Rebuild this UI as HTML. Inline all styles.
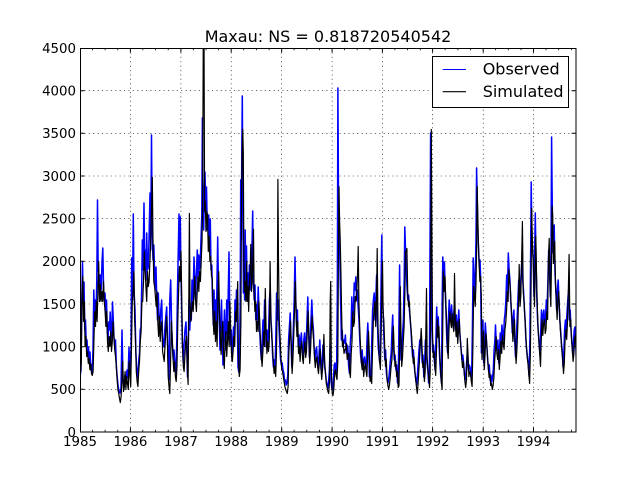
<!DOCTYPE html>
<html>
<head>
<meta charset="utf-8">
<style>
html,body{margin:0;padding:0;background:#fff;}
svg{display:block;}
text{font-family:"DejaVu Sans","Liberation Sans",sans-serif;fill:#000;}
</style>
</head>
<body>
<svg width="640" height="480" viewBox="0 0 640 480" xmlns="http://www.w3.org/2000/svg">
<defs>
<clipPath id="pc"><rect x="80" y="48" width="496" height="384"/></clipPath>
</defs>
<rect x="0" y="0" width="640" height="480" fill="#fff"/>

<!-- series -->
<g clip-path="url(#pc)" fill="none" stroke-linejoin="round">
<polyline stroke="#0000ff" stroke-width="1.5" points="
80,377 81,370 81.8,300 82.5,262 83.2,300 84,282 84.8,330 85.5,320 86.3,345 87,340 87.8,355 88.5,347 89.3,360 90,352 90.8,370 91.5,365 92.2,373 93,350 93.8,290 94.5,320 95.3,300 96,318 96.8,280 97.5,200 98.2,270 99,275 99.7,300 100.5,275 101.2,290 102,262 102.8,248 103.5,285 104.2,300 105,293 105.8,315 106.5,300 107.3,330 108,340 108.8,322 109.5,330 110.2,312 111,340 111.8,330 112.5,302 113.3,320 114,338 114.8,347 115.5,340 116.3,365 117,375 118,385 119,392 120,393 121,388 122,330 123,380 124,388 125,375 126,382 127,370 128,378 129,347 130,372
131,350 131.7,258 132.5,300 133.3,214 134,290 135,310 135.8,350 136.5,365 137.3,373 138,378 138.8,360 139.5,353 140.2,330 141,327 141.8,280 142.3,240 143,270 144,203 144.7,260 145.3,250 146,280 146.7,233 147.5,270 148.3,267 149,240 150,193 150.7,250 151.5,135 152.2,230 153,260 153.8,245 154.5,270 155.3,290 156,267 156.8,300 157.5,320 158.3,293 159,315 160,327 160.8,310 161.7,300 162.5,335 163.2,345 164,347 164.8,330 165.5,320 166.7,307 167.5,340 168.3,367 169,380 169.8,300 170.7,280 171.5,320 172.3,345 173.3,360 174,350 175,365 176,373 176.8,340 177.5,290 178.3,250 179,214 179.7,260 180.3,217 181,277
181.5,300 182.3,340 183.3,363 184,345 185,330 186,322 186.8,350 187.5,377 188.3,345 189,300 189.8,330 190.5,307 191.3,320 192,280 193,300 194,257 194.8,280 195.5,300 196.3,275 197.3,250 198,280 198.8,255 199.5,270 200.3,260 201,240 201.8,215 202.4,118 203,200 203.7,230 204.3,190 205,172 205.7,210 206.5,187 207.3,230 208,215 208.7,215 209.5,250 210.3,219 211,270 211.8,265 212.5,300 213.3,325 214,290 214.8,330 215.5,300 216.3,335 217,280 217.7,237 218.5,290 219.3,320 220,350 220.8,320 221.5,300 222.3,340 223,365 223.8,330 224.5,310 225.3,350 226,330 226.8,300 227.5,340 228.3,290 229,252 229.8,320 230.5,345 231.3,330
232,360 232.8,345 233.5,327 234.3,340 235,300 235.8,315 236.5,290 237.3,320 238,367 238.8,372 239.5,363 240.2,300 240.7,180 241.3,240 241.8,150 242.3,96 242.8,180 243.4,293 244,260 244.6,300 245.2,230 245.8,280 246.5,246 247.2,300 248,273 248.7,300 249.4,265 250.1,290 250.8,260 251.5,280 252.1,240 252.7,211 253.4,280 254.2,300 255,285 255.8,320 256.6,305 257.4,320 258.2,287 259,310 259.8,333 260.6,350 261.4,360 262.2,340 263,320 263.8,335 264.6,300 265.4,320 266.2,347 267,330 267.8,345 268.6,333 269.4,300 270.2,290 271,320 271.8,333 272.6,355 273.4,367 274.2,360 275,370 275.8,340 276.6,293 277.4,320 278.2,300 279,327 279.8,345 280.6,360 281.4,365
282.2,363 283,370 283.8,373 284.6,382 285.4,380 286.2,385 287,383 287.8,375 288.6,340 289.4,327 290.2,313 291,340 291.8,367 292.6,350 293.4,327 294.2,300 295,257 295.8,300 296.6,327 297.4,310 298.2,347 299,335 299.8,353 300.6,340 301.4,333 302.2,350 303,357 303.8,340 304.6,333 305.4,350 306.2,343 307,320 307.8,297 308.6,330 309.4,357 310.2,340 311,320 311.8,300 312.6,320 313.4,330 314.2,350 315,360 315.8,350 316.6,347 317.4,360 318.2,367 319,355 319.8,340 320.6,360 321.4,373 322.2,360 323,345 323.8,350 324.6,367 325.4,372 326.2,380 327,385 327.8,388 328.6,382 329.4,370 330.2,345 331,380 331.8,388
332.6,390 333.4,380 334.2,365 335,363 335.8,370 336.6,373 337.3,300 337.9,88 338.5,200 339.2,228 339.9,260 340.6,300 341.4,340 342.2,330 343,347 343.8,340 344.6,343 345.4,335 346.2,353 347,345 347.8,347 348.6,365 349.4,373 350.2,345 351,333 351.8,297 352.6,320 353.4,313 354.2,283 355,290 355.8,277 356.6,300 357.4,290 358.2,307 359,320 359.8,340 360.6,355 361.4,363 362.2,350 363,370 363.8,360 364.6,357 365.4,365 366.2,370 367,340 367.8,323 368.6,345 369.4,377 370.2,370 371,378 371.8,340 372.6,310 373.4,300 374.2,293 375,320 375.8,300 376.6,275 377.4,320 378.2,347 379,355 379.8,363 380.6,320 381.4,260 381.8,235 382.4,300
383.2,313 384,340 384.8,360 385.6,350 386.4,373 387.2,380 388,383 388.8,378 389.6,370 390.4,360 391.2,353 392,330 392.7,315 393.5,345 394.3,360 395.1,355 395.9,370 396.7,365 397.5,383 398.3,380 399,320 399.6,265 400.3,330 401,360 401.8,350 402.6,333 403.4,320 404.2,280 404.8,227 405.5,250 406.2,270 407,287 407.8,300 408.6,295 409.4,310 410.2,320 411,330 411.8,345 412.6,357 413.4,350 414.2,365 415,373 415.8,380 416.6,385 417.4,375 418.2,363 419,350 419.8,340 420.6,345 421.4,340 422.2,363 423,355 423.8,377 424.6,365 425.4,340 426.2,350 427,363 427.8,370 428.6,383 429.4,375 430,250 430.6,133 431.2,250 431.9,330
432.7,352 433.5,345 434.3,360 435.1,370 435.9,340 436.7,307 437.5,330 438.3,317 439.1,345 439.9,363 440.7,375 441.5,383 442.2,300 442.8,257 443.6,280 444.4,262 445.2,290 446,313 446.8,340 447.6,353 448.4,320 449.2,300 450,313 450.8,320 451.6,305 452.4,320 453.2,327 454,310 454.8,320 455.6,330 456.4,315 457.2,337 458,325 458.8,310 459.6,330 460.4,340 461.2,350 462,360 462.8,355 463.6,363 464.4,375 465.2,380 466,372 466.8,360 467.6,350 468.4,370 469.2,365 470,367 470.8,375 471.6,380 472.4,330 473.2,258 474,280 474.7,297 475.4,270 476,240 476.6,168 477.2,200 477.9,233 478.6,250 479.3,267 480,260 480.7,280 481.4,353 482.2,330 482.9,320
483.7,363 484.5,345 485.3,323 486.1,335 486.9,347 487.7,360 488.5,370 489.3,365 490.1,380 490.9,375 491.7,382 492.5,378 493.3,370 494.1,350 494.9,340 495.5,325 496.3,345 497.1,350 497.9,340 498.7,363 499.5,350 500.3,333 501.1,345 501.9,325 502.7,335 503.5,340 504.3,320 505.1,313 505.9,300 506.7,275 507.5,290 508.3,253 509.1,270 509.9,280 510.7,300 511.5,313 512.3,333 513.1,320 513.9,310 514.7,340 515.5,357 516.3,340 517.1,320 517.9,300 518.7,280 519.5,300 520.3,287 521.1,275 521.9,260 522.7,280 523.5,290 524.3,307 525.1,320 525.9,340 526.7,350 527.5,357 528.3,365 529.1,377 529.9,340 530.6,260 531.2,182 531.8,230 532.5,247 533.2,260
534,297 534.7,250 535.3,213 536,260 536.8,297 537.6,320 538.4,333 539.2,345 540,355 540.8,330 541.5,310 542.3,327 543.1,315 543.9,310 544.7,325 545.5,320 546.3,300 547.1,310 547.9,280 548.7,250 549.5,270 550.3,297 551,250 551.6,137 552.2,200 552.9,253 553.6,240 554.2,225 555,273 555.8,290 556.6,310 557.4,290 558.2,280 559,300 559.8,320 560.6,330 561.4,343 562.2,350 563,367 563.8,355 564.6,330 565.4,320 566.2,330 567,313 567.8,300 568.6,290 569.4,320 570.2,310 571,330 571.8,340 572.6,353 573.4,345 574.2,330 575,327 575.8,345 576.3,360"/>
<polyline stroke="#000000" stroke-width="1.2" transform="translate(0.5,1.5)" points="
80,372 80.8,360 81.6,290 82.3,275 83,320 83.8,300 84.6,345 85.4,335 86.2,355 87,350 87.8,362 88.6,357 89.4,368 90.2,362 91,372 91.8,374 92.6,370 93.4,340 94.2,310 95,325 95.8,300 96.6,320 97.4,290 98.2,260 99,300 99.8,283 100.6,300 101.4,290 102.2,300 103,280 103.8,300 104.6,310 105.4,325 106.2,310 107,340 107.8,350 108.6,335 109.4,345 110.2,330 111,350 111.8,340 112.6,320 113.4,335 114.2,348 115,355 115.8,365 116.6,378 117.4,388 118.2,392 119,397 119.8,401 120.6,395 121.4,380 122.2,360 123,390 123.8,385 124.6,370 125.4,388 126.2,375 127,382 127.8,388 128.6,360 129.4,372 130.2,385
131,345 131.8,300 132.6,290 133.4,270 134.2,320 135,340 135.8,370 136.6,380 137.4,385 138.2,370 139,360 139.8,340 140.6,330 141.4,300 142.2,300 143,280 143.8,250 144.6,270 145.4,285 146.2,300 147,270 147.8,285 148.6,280 149.4,260 150.2,240 151,210 151.8,176 152.5,240 153.3,280 154.1,285 154.9,295 155.7,305 156.5,290 157.3,320 158.1,335 158.9,315 159.7,340 160.5,325 161.3,320 162.1,350 162.9,355 163.7,360 164.5,345 165.3,330 166.1,315 166.9,340 167.7,375 168.5,385 169.3,392 170.1,360 170.9,320 171.7,335 172.5,355 173.3,370 174.1,360 174.9,375 175.7,380 176.5,365 177.3,320 178.1,290 178.9,265 179.7,280 180.5,250 181.3,300
182,345 182.8,365 183.6,370 184.4,355 185.2,340 186,335 186.8,365 187.6,383 188.3,300 188.9,212 189.5,300 190.3,320 191.1,310 191.9,300 192.7,310 193.5,290 194.3,275 195.1,300 195.9,310 196.7,290 197.5,275 198.3,290 199.1,270 199.9,280 200.7,260 201.5,240 202.1,205 202.8,30 203.5,30 204.1,210 204.8,200 205.5,230 206.3,210 207,214 207.8,250 208.6,235 209.4,260 210.2,255 211,275 211.8,277 212.6,317 213.4,333 214.2,310 215,340 215.8,320 216.6,345 217.4,300 218.2,270 219,310 219.8,335 220.6,353 221.4,330 222.2,320 223,350 223.8,367 224.6,340 225.4,330 226.2,355 227,340 227.8,320 228.6,345 229.4,300 230.2,330 231,352
231.8,360 232.6,350 233.4,335 234.2,345 235,310 235.8,320 236.6,300 237.2,280 238,360 238.8,375 239.6,368 240.4,320 241,200 241.6,155 242.2,128 242.8,150 243.4,260 244,290 244.7,280 245.4,300 246.1,260 246.8,300 247.5,285 248.2,310 248.9,280 249.6,270 250.3,243 251,290 251.7,280 252.4,255 253,228 253.6,290 254.4,310 255.2,300 256,330 256.8,320 257.6,330 258.4,300 259.2,320 260,340 260.8,355 261.6,365 262.4,350 263.2,330 264,345 264.8,287 265.6,330 266.4,352 267.2,340 268,350 268.8,340 269.6,260 270.4,320 271.2,335 272,345 272.8,360 273.6,372 274.4,365 275.2,375 276,350 276.8,300 277.4,178 278,260 278.8,320 279.6,335 280.4,355 281.2,368
282,370 282.8,375 283.6,380 284.4,385 285.2,388 286,390 286.8,392 287.6,385 288.4,350 289.2,335 290,320 290.8,345 291.6,372 292.4,358 293.2,335 294,310 294.8,280 295.6,310 296.4,335 297.2,320 298,352 298.8,345 299.6,360 300.4,345 301.2,340 302,356 302.8,362 303.6,350 304.4,340 305.2,356 306,350 306.8,330 307.6,310 308.4,335 309.2,362 310,350 310.8,330 311.6,315 312.4,330 313.2,340 314,356 314.8,366 315.6,358 316.4,355 317.2,366 318,372 318.8,362 319.6,348 320.4,366 321.2,378 322,368 322.8,350 323.4,333 324.2,360 325,372 325.8,382 326.6,386 327.4,390 328.2,392 329,380 329.7,300 330.2,280 330.9,370 331.7,392
332.5,394 333.3,388 334.1,372 334.9,368 335.7,375 336.5,378 337.3,360 338,240 338.5,185 339.1,220 339.7,238 340.4,270 341.1,310 341.9,345 342.7,340 343.5,352 344.3,348 345.1,348 345.9,342 346.7,358 347.5,352 348.3,352 349.1,370 349.9,376 350.7,352 351.5,340 352.3,310 353.1,325 353.9,320 354.7,295 355.5,300 356.3,290 357.1,270 357.7,245 358.4,300 359.2,325 360,345 360.8,360 361.6,368 362.4,358 363.2,375 364,366 364.8,362 365.6,370 366.4,375 367.2,350 368,330 368.8,350 369.6,380 370.4,375 371.2,382 372,350 372.8,320 373.6,308 374.4,300 375.2,325 376,300 376.7,247 377.5,325 378.3,350 379.1,360 379.9,368 380.7,330 381.5,280 382,260 382.6,310
383.4,320 384.2,345 385,365 385.8,358 386.6,378 387.4,384 388.2,388 389,383 389.8,375 390.6,365 391.4,358 392.2,340 392.9,325 393.7,350 394.5,365 395.3,360 396.1,375 396.9,370 397.7,386 398.5,384 399.2,340 399.8,285 400.5,335 401.2,365 402,356 402.8,340 403.6,325 404.4,290 405,250 405.7,250 406.4,247 407.2,290 408,305 408.8,300 409.6,315 410.4,326 411.2,336 412,350 412.8,362 413.6,356 414.4,370 415.2,378 416,386 416.8,392 417.6,382 418.4,368 419.2,355 420,340 420.7,327 421.5,345 422.3,366 423.1,360 423.9,380 424.7,370 425.5,320 426,287 426.6,355 427.4,368 428.2,375 429,386 429.7,370 430.3,240 430.8,128 431.4,240 432,330
432.8,356 433.6,350 434.4,365 435.2,374 436,348 436.8,318 437.6,336 438.4,325 439.2,350 440,367 440.8,380 441.6,388 442.3,320 442.9,270 443.7,290 444.5,275 445.3,300 446.1,320 446.9,345 447.7,357 448.5,328 449.3,310 450.1,320 450.9,326 451.7,312 452.5,325 453.3,330 454,272 454.8,320 455.6,335 456.4,320 457.2,342 458,330 458.8,318 459.6,336 460.4,346 461.2,356 462,366 462.8,360 463.6,368 464.4,380 465.2,386 466,378 466.8,337 467.6,356 468.4,375 469.2,370 470,372 470.8,380 471.6,385 472.4,345 473.2,285 474,295 474.7,305 475.4,285 476,255 476.7,185 477.3,215 478,245 478.7,265 479.4,280 480.1,275 480.8,295 481.5,358 482.3,340 483,330
483.8,368 484.6,352 485.4,332 486.2,342 487,355 487.8,366 488.6,376 489.4,372 490.2,384 491,382 491.8,388 492.6,384 493.4,376 494.2,358 495,348 495.6,335 496.4,352 497.2,358 498,348 498.8,368 499.6,356 500.4,340 501.2,352 502,334 502.8,342 503.6,348 504.4,328 505.2,322 506,310 506.8,290 507.6,300 508.4,268 509.2,280 510,290 510.8,308 511.6,320 512.4,340 513.2,328 514,318 514.8,346 515.6,362 516.4,348 517.2,328 518,300 518.7,263 519.5,305 520.3,295 521.1,260 521.9,220 522.7,290 523.5,300 524.3,315 525.1,328 525.9,346 526.7,356 527.5,362 528.3,372 529.1,382 529.9,350 530.6,280 531.2,207 531.8,240 532.5,255 533.2,270
534,305 534.7,265 535.3,235 536,270 536.8,305 537.6,328 538.4,340 539.2,352 540,365 540.8,338 541.5,318 542.3,334 543.1,322 543.9,318 544.7,332 545.5,328 546.3,310 547.1,318 547.9,260 548.7,237 549.5,280 550.3,305 551,260 551.6,205 552.2,215 552.9,262 553.6,250 554.2,240 555,282 555.8,298 556.6,318 557.4,300 558.2,290 559,308 559.8,328 560.6,338 561.4,350 562.2,358 563,372 563.8,362 564.6,338 565.4,328 566.2,338 567,320 567.8,290 568.6,253 569.4,325 570.2,318 571,338 571.8,348 572.6,360 573.4,352 574.2,336 575,334 575.8,352 576.3,366"/>
</g>

<!-- grid -->
<g stroke="#000" stroke-width="0.6" stroke-dasharray="1.1,3.3" fill="none">
<line x1="130.4" y1="48" x2="130.4" y2="432"/>
<line x1="180.9" y1="48" x2="180.9" y2="432"/>
<line x1="231.2" y1="48" x2="231.2" y2="432"/>
<line x1="281.7" y1="48" x2="281.7" y2="432"/>
<line x1="332.1" y1="48" x2="332.1" y2="432"/>
<line x1="382.4" y1="48" x2="382.4" y2="432"/>
<line x1="432.6" y1="48" x2="432.6" y2="432"/>
<line x1="483.2" y1="48" x2="483.2" y2="432"/>
<line x1="533.5" y1="48" x2="533.5" y2="432"/>
<line x1="80" y1="389.3" x2="576" y2="389.3"/>
<line x1="80" y1="346.7" x2="576" y2="346.7"/>
<line x1="80" y1="304" x2="576" y2="304"/>
<line x1="80" y1="261.3" x2="576" y2="261.3"/>
<line x1="80" y1="218.7" x2="576" y2="218.7"/>
<line x1="80" y1="176" x2="576" y2="176"/>
<line x1="80" y1="133.3" x2="576" y2="133.3"/>
<line x1="80" y1="90.7" x2="576" y2="90.7"/>
</g>

<!-- ticks -->
<g stroke="#000" stroke-width="1" fill="none">
<path d="M130.4,432v-4.4M180.9,432v-4.4M231.2,432v-4.4M281.7,432v-4.4M332.1,432v-4.4M382.4,432v-4.4M432.6,432v-4.4M483.2,432v-4.4M533.5,432v-4.4
M130.4,48v4.4M180.9,48v4.4M231.2,48v4.4M281.7,48v4.4M332.1,48v4.4M382.4,48v4.4M432.6,48v4.4M483.2,48v4.4M533.5,48v4.4
M80,389.3h4.4M80,346.7h4.4M80,304h4.4M80,261.3h4.4M80,218.7h4.4M80,176h4.4M80,133.3h4.4M80,90.7h4.4
M576,389.3h-4.4M576,346.7h-4.4M576,304h-4.4M576,261.3h-4.4M576,218.7h-4.4M576,176h-4.4M576,133.3h-4.4M576,90.7h-4.4"/>
<path stroke-width="0.8" d="M92.4,432v-2.2M105.1,432v-2.2M117.8,432v-2.2M142.8,432v-2.2M155.5,432v-2.2M168.2,432v-2.2M193.3,432v-2.2M206,432v-2.2M218.6,432v-2.2M243.7,432v-2.2M256.4,432v-2.2M269.1,432v-2.2M294.1,432v-2.2M306.8,432v-2.2M319.5,432v-2.2M344.5,432v-2.2M357.2,432v-2.2M369.9,432v-2.2M394.9,432v-2.2M407.6,432v-2.2M420.3,432v-2.2M445.1,432v-2.2M457.9,432v-2.2M470.6,432v-2.2M495.6,432v-2.2M508.3,432v-2.2M521,432v-2.2M546,432v-2.2M558.7,432v-2.2M571.4,432v-2.2
M92.4,48v2.2M105.1,48v2.2M117.8,48v2.2M142.8,48v2.2M155.5,48v2.2M168.2,48v2.2M193.3,48v2.2M206,48v2.2M218.6,48v2.2M243.7,48v2.2M256.4,48v2.2M269.1,48v2.2M294.1,48v2.2M306.8,48v2.2M319.5,48v2.2M344.5,48v2.2M357.2,48v2.2M369.9,48v2.2M394.9,48v2.2M407.6,48v2.2M420.3,48v2.2M445.1,48v2.2M457.9,48v2.2M470.6,48v2.2M495.6,48v2.2M508.3,48v2.2M521,48v2.2M546,48v2.2M558.7,48v2.2M571.4,48v2.2"/>
</g>

<!-- axes frame -->
<rect x="80.5" y="48.5" width="495.5" height="383.5" fill="none" stroke="#000" stroke-width="1"/>

<!-- y tick labels -->
<g font-size="13.33" text-anchor="end">
<text x="76" y="436.8">0</text>
<text x="76" y="394.1">500</text>
<text x="76" y="351.5">1000</text>
<text x="76" y="308.8">1500</text>
<text x="76" y="266.1">2000</text>
<text x="76" y="223.5">2500</text>
<text x="76" y="180.8">3000</text>
<text x="76" y="138.1">3500</text>
<text x="76" y="95.5">4000</text>
<text x="76" y="52.8">4500</text>
</g>

<!-- x tick labels -->
<g font-size="13.33" text-anchor="middle">
<text x="80" y="446">1985</text>
<text x="130.4" y="446">1986</text>
<text x="180.9" y="446">1987</text>
<text x="231.2" y="446">1988</text>
<text x="281.7" y="446">1989</text>
<text x="332.1" y="446">1990</text>
<text x="382.4" y="446">1991</text>
<text x="432.6" y="446">1992</text>
<text x="483.2" y="446">1993</text>
<text x="533.5" y="446">1994</text>
</g>

<!-- title -->
<text x="328" y="42" font-size="16" text-anchor="middle">Maxau: NS = 0.818720540542</text>

<!-- legend -->
<rect x="432.5" y="56.5" width="136" height="51" fill="#fff" stroke="#000" stroke-width="1"/>
<line x1="442.7" y1="69.5" x2="466" y2="69.5" stroke="#0000ff" stroke-width="1.1"/>
<line x1="442.7" y1="91.7" x2="466" y2="91.7" stroke="#000" stroke-width="1.1"/>
<text x="482.7" y="74.5" font-size="16">Observed</text>
<text x="482.7" y="97" font-size="16">Simulated</text>
</svg>
</body>
</html>
